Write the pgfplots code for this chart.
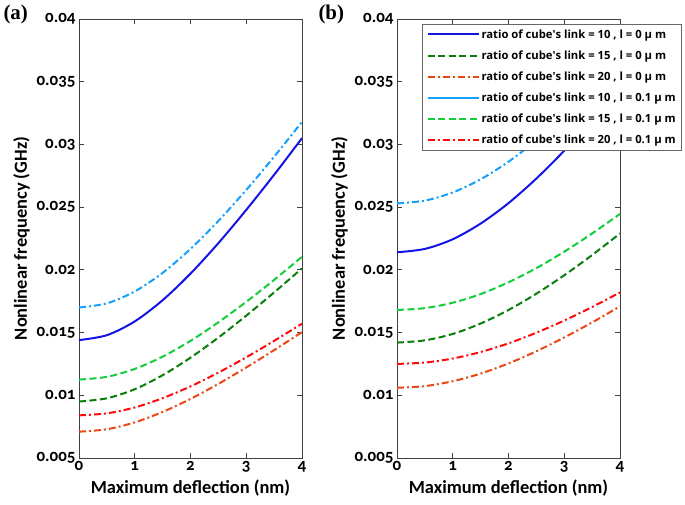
\documentclass[border=0pt]{standalone}
\usepackage{pgfplots}
\pgfplotsset{compat=1.18}
\usepackage{fontspec}
\setmainfont{Carlito}[Numbers=OldStyle]
\newfontfamily\tnr{Liberation Serif}
\newfontfamily\legfont{Open Sans}

\definecolor{cblue}{RGB}{20,20,230}
\definecolor{cdgreen}{RGB}{10,125,10}
\definecolor{corange}{RGB}{235,70,20}
\definecolor{clblue}{RGB}{20,160,255}
\definecolor{clgreen}{RGB}{20,205,60}
\definecolor{cred}{RGB}{255,10,10}

\pgfplotsset{
  common/.style={
    width=223bp, height=439bp, scale only axis,
    xmin=0, xmax=4, ymin=0.005, ymax=0.04,
    scaled y ticks=false, scaled x ticks=false,
    xtick={0,1,2,3,4},
    xticklabels={0,1,2,3,4},
    ytick={0.005,0.01,0.015,0.02,0.025,0.03,0.035,0.04},
    yticklabels={0.005,0.01,0.015,0.02,0.025,0.03,0.035,0.04},
    tick align=inside, major tick length=5bp,
    axis line style={black!75, line width=0.8bp},
    tick style={black!75, line width=0.8bp},
    ticklabel style={font=\fontsize{17}{17}\selectfont\bfseries},
    label style={font=\fontsize{18.5}{18.5}\selectfont\bfseries},
    xlabel={Maximum deflection (nm)},
    ylabel={Nonlinear frequency (GHz)},
    /pgf/number format/assume math mode=true,
    every axis plot/.append style={line width=2bp, smooth},
  },
  sdash/.style={dash pattern=on 7bp off 3.5bp},
  sdashdot/.style={dash pattern=on 7bp off 3bp on 2bp off 3bp},
}

\begin{document}
\begin{tikzpicture}
\begin{axis}[common, name=a, at={(0,0)}, anchor=south west]
% ratio 10, l=0
\addplot[cblue, solid] coordinates {(0,0.01440) (0.5,0.01479) (1,0.01589) (1.5,0.01758) (2,0.01970) (2.5,0.02213) (3,0.02478) (3.5,0.02758) (4,0.03050)};
% ratio 15, l=0
\addplot[cdgreen, sdash] coordinates {(0,0.00950) (0.5,0.00976) (1,0.01048) (1.5,0.01160) (2,0.01300) (2.5,0.01460) (3,0.01635) (3.5,0.01820) (4,0.02012)};
% ratio 20, l=0
\addplot[corange, sdashdot] coordinates {(0,0.00710) (0.5,0.00729) (1,0.00784) (1.5,0.00867) (2,0.00971) (2.5,0.01091) (3,0.01222) (3.5,0.01360) (4,0.01504)};
% ratio 10, l=0.1
\addplot[clblue, sdashdot] coordinates {(0,0.01700) (0.5,0.01733) (1,0.01828) (1.5,0.01976) (2,0.02167) (2.5,0.02390) (3,0.02637) (3.5,0.02902) (4,0.03180)};
% ratio 15, l=0.1
\addplot[clgreen, sdash] coordinates {(0,0.01125) (0.5,0.01147) (1,0.01210) (1.5,0.01308) (2,0.01434) (2.5,0.01582) (3,0.01745) (3.5,0.01920) (4,0.02104)};
% ratio 20, l=0.1
\addplot[cred, sdashdot] coordinates {(0,0.00840) (0.5,0.00856) (1,0.00903) (1.5,0.00977) (2,0.01071) (2.5,0.01181) (3,0.01303) (3.5,0.01434) (4,0.01571)};
\end{axis}

\begin{axis}[common, name=b, at={(318bp,0)}, anchor=south west,
  legend style={at={(0.1126,0.9886)}, anchor=north west, draw=black!60, line width=0.8bp, fill=white,
    font=\legfont\fontsize{11.3}{13}\selectfont\bfseries, inner xsep=4bp, inner ysep=3bp,
    row sep=7bp},
  legend cell align=left,
  legend image code/.code={\draw[#1] (0bp,0bp) -- (51bp,0bp);},
]
\addplot[cblue, solid, forget plot] coordinates {(0,0.02140) (0.5,0.02167) (1,0.02244) (1.5,0.02369) (2,0.02532) (2.5,0.02728) (3,0.02950) (3.5,0.03192) (4,0.03451)};
\addplot[cdgreen, sdash, forget plot] coordinates {(0,0.01420) (0.5,0.01438) (1,0.01489) (1.5,0.01572) (2,0.01680) (2.5,0.01810) (3,0.01957) (3.5,0.02118) (4,0.02290)};
\addplot[corange, sdashdot, forget plot] coordinates {(0,0.01060) (0.5,0.01073) (1,0.01112) (1.5,0.01173) (2,0.01254) (2.5,0.01351) (3,0.01461) (3.5,0.01581) (4,0.01709)};
\addplot[clblue, sdashdot, forget plot] coordinates {(0,0.02530) (0.5,0.02552) (1,0.02617) (1.5,0.02722) (2,0.02862) (2.5,0.03033) (3,0.03230) (3.5,0.03448) (4,0.03684)};
\addplot[clgreen, sdash, forget plot] coordinates {(0,0.01680) (0.5,0.01695) (1,0.01738) (1.5,0.01807) (2,0.01901) (2.5,0.02014) (3,0.02145) (3.5,0.02290) (4,0.02446)};
\addplot[cred, sdashdot, forget plot] coordinates {(0,0.01250) (0.5,0.01261) (1,0.01293) (1.5,0.01345) (2,0.01414) (2.5,0.01499) (3,0.01596) (3.5,0.01704) (4,0.01820)};
\addlegendimage{cblue, solid, line width=2bp}
\addlegendentry{ratio of cube\textquotesingle s link = 10 , l = 0 μ m}
\addlegendimage{cdgreen, sdash, line width=2bp}
\addlegendentry{ratio of cube\textquotesingle s link = 15 , l = 0 μ m}
\addlegendimage{corange, sdashdot, line width=2bp}
\addlegendentry{ratio of cube\textquotesingle s link = 20 , l = 0 μ m}
\addlegendimage{clblue, solid, line width=2bp}
\addlegendentry{ratio of cube\textquotesingle s link = 10 , l = 0.1 μ m}
\addlegendimage{clgreen, sdash, line width=2bp}
\addlegendentry{ratio of cube\textquotesingle s link = 15 , l = 0.1 μ m}
\addlegendimage{cred, sdashdot, line width=2bp}
\addlegendentry{ratio of cube\textquotesingle s link = 20 , l = 0.1 μ m}
\end{axis}

\node[anchor=west, font=\tnr\fontsize{21}{21}\selectfont\bfseries] at ([xshift=-79bp,yshift=5bp]a.north west) {(a)};
\node[anchor=west, font=\tnr\fontsize{21}{21}\selectfont\bfseries] at ([xshift=-82bp,yshift=5bp]b.north west) {(b)};

\pgfresetboundingbox
\path[use as bounding box] (-79bp,-47bp) rectangle (606bp,458bp);
\end{tikzpicture}
\end{document}
